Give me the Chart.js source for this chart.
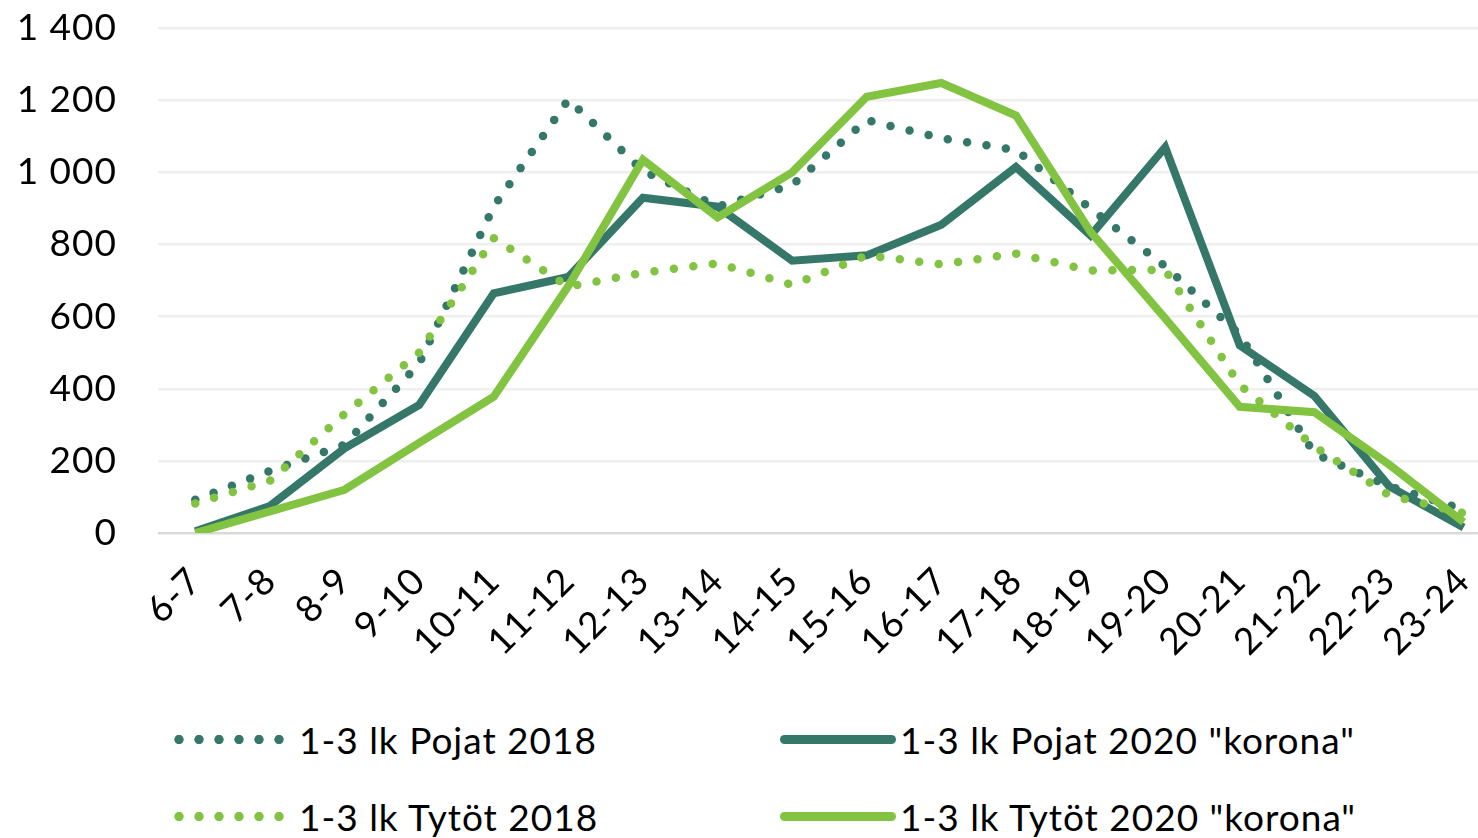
<!DOCTYPE html>
<html>
<head>
<meta charset="utf-8">
<script src="https://cdn.jsdelivr.net/npm/chart.js@4.4.1/dist/chart.umd.min.js"></script>
<style>
  html, body { margin: 0; padding: 0; background: #fff; overflow: hidden; }
  #wrap { position: relative; width: 1478px; height: 838px; overflow: hidden; }
  #chart { position: absolute; left: 0; top: -35px; }
  .item { position: absolute; height: 40px; display: flex; align-items: center; white-space: nowrap;
          font-family: Lato, sans-serif; font-size: 37px; letter-spacing: 1px; color: #000; }
  .mark { position: absolute; left: 0; top: 15.5px; height: 9px; }
  .dots { width: 120px; background-size: 20px 9px; background-repeat: repeat-x; }
  .bar { width: 116px; border-radius: 4.5px; }
  .item span { position: absolute; }
</style>
</head>
<body>
<div id="wrap">
  <canvas id="chart" width="1513" height="735"></canvas>
  <div id="legend"></div>
</div>
<script>
const categories = ["6-7", "7-8", "8-9", "9-10", "10-11", "11-12", "12-13", "13-14", "14-15",
  "15-16", "16-17", "17-18", "18-19", "19-20", "20-21", "21-22", "22-23", "23-24"];

const pojat2018 = [92, 172, 245, 470, 905, 1202, 1005, 905, 965, 1145, 1095, 1062, 900, 740, 550, 220, 130, 65];
const tytot2018 = [82, 145, 330, 500, 818, 683, 722, 748, 688, 770, 745, 775, 728, 730, 410, 240, 105, 55];
const pojat2020 = [5, 75, 235, 355, 665, 710, 930, 905, 755, 770, 855, 1015, 825, 1070, 520, 380, 130, 15];
const tytot2020 = [0, 60, 120, 250, 378, 685, 1035, 875, 1000, 1210, 1248, 1158, 835, 595, 350, 335, 190, 30];

const yMin = 0;
const yMax = 1400;
const yStep = 200;

const DARK = "#357869";
const LIGHT = "#82c341";
const FONT = "Lato, sans-serif";

const series = [
  { label: "1-3 lk Pojat 2018", data: pojat2018, color: DARK, dotted: true, order: 3 },
  { label: '1-3 lk Pojat 2020 "korona"', data: pojat2020, color: DARK, dotted: false, order: 2 },
  { label: "1-3 lk Tytöt 2018", data: tytot2018, color: LIGHT, dotted: true, order: 1 },
  { label: '1-3 lk Tytöt 2020 "korona"', data: tytot2020, color: LIGHT, dotted: false, order: 0 },
];

// thousands with a space: 1 400
const fmt = (v) => String(v).replace(/\B(?=(\d{3})+(?!\d))/g, " ");

const datasets = series.map((s) => ({
  label: s.label,
  data: s.data,
  borderColor: s.color,
  backgroundColor: s.color,
  borderWidth: s.dotted ? 8.5 : 8,
  borderDash: s.dotted ? [0, 19.6] : [],
  borderCapStyle: s.dotted ? "round" : "butt",
  borderJoinStyle: s.dotted ? "round" : "miter",
  pointRadius: 0,
  tension: 0,
  fill: false,
  order: s.order,
}));

// slightly looser tracking on axis labels
const spacing = {
  id: "spacing",
  beforeDraw: (chart) => { chart.ctx.letterSpacing = "1px"; },
};

new Chart(document.getElementById("chart"), {
  type: "line",
  data: { labels: categories, datasets: datasets },
  plugins: [spacing],
  options: {
    responsive: false,
    animation: false,
    layout: { padding: { top: 0, right: 0, left: 0, bottom: 0 } },
    plugins: { legend: { display: false }, tooltip: { enabled: false } },
    scales: {
      x: {
        offset: true,
        grid: { display: false },
        border: { display: false },
        ticks: {
          autoSkip: false,
          minRotation: 45,
          maxRotation: 45,
          padding: 18,
          color: "#000",
          font: { family: FONT, size: 37 },
        },
        afterFit: (scale) => { scale.height = 167; },
      },
      y: {
        min: yMin,
        max: yMax,
        border: { display: false },
        grid: {
          drawTicks: false,
          lineWidth: 2.5,
          color: (ctx) => (ctx.tick && ctx.tick.value === 0 ? "#d9d9d9" : "#efefef"),
        },
        ticks: {
          stepSize: yStep,
          padding: 41,
          color: "#000",
          font: { family: FONT, size: 37 },
          callback: (v) => fmt(v),
        },
        afterFit: (scale) => { scale.width = 158; },
      },
    },
  },
});

// legend in two columns under the plot
const legendPos = [
  { x: 169, y: 719, text: 299 },
  { x: 780, y: 719, text: 900 },
  { x: 169, y: 796, text: 299 },
  { x: 780, y: 796, text: 900 },
];
const legend = document.getElementById("legend");
series.forEach((s, i) => {
  const p = legendPos[i];
  const item = document.createElement("div");
  item.className = "item";
  item.style.left = p.x + "px";
  item.style.top = p.y + "px";
  const mark = document.createElement("div");
  if (s.dotted) {
    mark.className = "mark dots";
    mark.style.backgroundImage = `radial-gradient(circle, ${s.color} 4.3px, transparent 5px)`;
  } else {
    mark.className = "mark bar";
    mark.style.background = s.color;
  }
  const text = document.createElement("span");
  text.textContent = s.label;
  text.style.left = (p.text - p.x) + "px";
  item.appendChild(mark);
  item.appendChild(text);
  legend.appendChild(item);
});
</script>
</body>
</html>
